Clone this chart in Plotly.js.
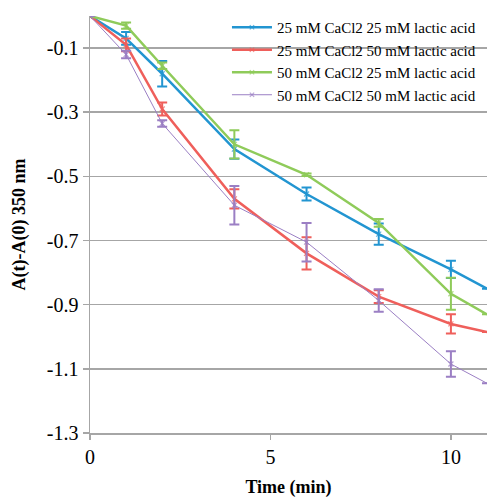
<!DOCTYPE html>
<html><head><meta charset="utf-8">
<script src="https://cdn.plot.ly/plotly-3.0.1.min.js"></script>
<style>body{margin:0;padding:0;background:#fff}#chart{width:491px;height:499px}</style>
</head><body><div id="chart"></div>
<script>
const time = [0, 1, 2, 4, 6, 8, 10, 11];
const names = ["25 mM CaCl2 25 mM lactic acid","25 mM CaCl2 50 mM lactic acid","50 mM CaCl2 25 mM lactic acid","50 mM CaCl2 50 mM lactic acid"];
const s1 = [0, -0.07, -0.18, -0.415, -0.555, -0.68, -0.79, -0.85];
const e1 = [0, 0.02, 0.04, 0.03, 0.02, 0.033, 0.027, 0];
const s2 = [0, -0.09, -0.29, -0.57, -0.74, -0.875, -0.96, -0.985];
const e2 = [0, 0.02, 0.02, 0.03, 0.05, 0.02, 0.03, 0];
const s3 = [0, -0.03, -0.155, -0.40, -0.495, -0.645, -0.866, -0.93];
const e3 = [0, 0.01, 0.01, 0.044, 0.004, 0.012, 0.05, 0];
const s4 = [0, -0.12, -0.335, -0.59, -0.705, -0.887, -1.085, -1.145];
const e4 = [0, 0.012, 0.01, 0.06, 0.06, 0.035, 0.04, 0];
const yTicks = [-0.1, -0.3, -0.5, -0.7, -0.9, -1.1, -1.3];
const yTickText = ["-0.1", "-0.3", "-0.5", "-0.7", "-0.9", "-1.1", "-1.3"];
const xTicks = [0, 5, 10];
const xTickText = ["0", "5", "10"];
const colors = ["#2295d1", "#ef5f5b", "#8fcb5a", "#9b7fc4"];
const widths = [2.5, 2.5, 2.5, 1];
const series = [s1, s2, s3, s4];
const errs = [e1, e2, e3, e4];
const FONT = 'Liberation Serif';
const traces = series.map((s, i) => ({
  x: time, y: s, name: names[i], type: 'scatter', mode: 'lines+markers',
  line: {color: colors[i], width: widths[i]},
  marker: {symbol: 'x-thin', size: time.map((t, k) => k === time.length - 1 ? 0 : 5), color: colors[i], line: {color: colors[i], width: 1.2}},
  error_y: {type: 'data', array: errs[i], visible: true, color: colors[i], thickness: 2, width: 5}
}));
const tickFont = {family: FONT, size: 20, color: '#000'};
const layout = {
  width: 491, height: 499,
  font: {family: FONT, size: 20, color: '#000'},
  margin: {l: 90, r: 4, t: 16, b: 66},
  paper_bgcolor: '#fff', plot_bgcolor: '#fff',
  showlegend: true,
  legend: {x: 0.345, xanchor: 'left', y: 1.012, yanchor: 'top', bgcolor: 'rgba(0,0,0,0)',
    font: {family: FONT, size: 15, color: '#000'}, tracegroupgap: 0, itemwidth: 40},
  xaxis: {range: [0, 11], tickmode: 'array', tickvals: xTicks, ticktext: xTickText,
    showgrid: false, zeroline: false, showline: true, linecolor: '#a6a6a6', linewidth: 1.5,
    ticks: 'outside', ticklen: 5, tickcolor: '#a6a6a6', tickwidth: 1.5, tickfont: tickFont,
    title: {text: 'Time (min)', font: {family: FONT, size: 18, color: '#000', weight: 'bold'}, standoff: 14}},
  yaxis: {range: [-1.3, 0], tickmode: 'array', tickvals: yTicks, ticktext: yTickText,
    showgrid: true, gridcolor: '#a6a6a6', gridwidth: 1.5, zeroline: false,
    showline: true, linecolor: '#a6a6a6', linewidth: 1.5,
    ticks: 'outside', ticklen: 6, tickcolor: '#a6a6a6', tickwidth: 1.5, tickfont: tickFont,
    title: {text: 'A(t)-A(0) 350 nm', font: {family: FONT, size: 18, color: '#000', weight: 'bold'}, standoff: 16}}
};
Plotly.newPlot('chart', traces, layout, {displayModeBar: false, staticPlot: true});
</script></body></html>
